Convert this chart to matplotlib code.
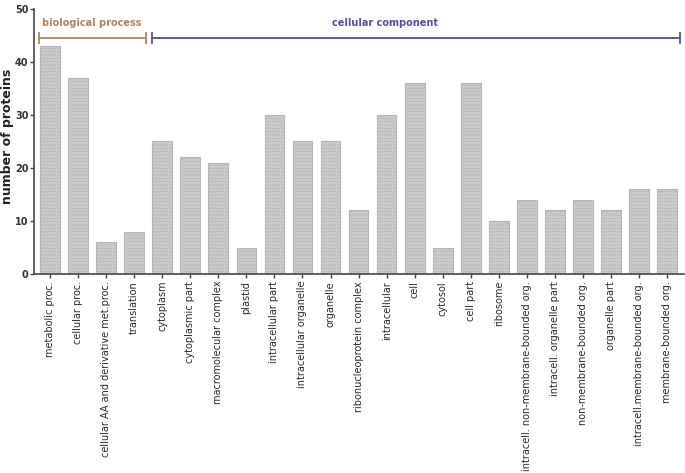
import numpy as np
import matplotlib
matplotlib.use("Agg")
import matplotlib.pyplot as plt

# GO categories and protein counts
categories = [
    "metabolic proc.", "cellular proc.", "cellular AA and derivative met.proc.",
    "translation", "cytoplasm", "cytoplasmic part", "macromolecular complex",
    "plastid", "intracellular part", "intracellular organelle", "organelle",
    "ribonucleoprotein complex", "intracellular", "cell", "cytosol", "cell part",
    "ribosome", "intracell. non-membrane-bounded org.", "intracell. organelle part",
    "non-membrane-bounded org.", "organelle part",
    "intracell.membrane-bounded org.", "membrane-bounded org.",
]
counts = [43, 37, 6, 8, 25, 22, 21, 5, 30, 25, 25, 12, 30, 36, 5, 36,
          10, 14, 12, 14, 12, 16, 16]

# group brackets: (label, first index, last index, colour)
groups = [
    ("biological process", 0, 3, "#b4825f"),
    ("cellular component", 4, 22, "#5b4c9c"),
]

plt.rcParams["hatch.color"] = "#d6d6d6"
plt.rcParams["hatch.linewidth"] = 0.4

fig = plt.figure(figsize=(6.85, 4.73), dpi=100)
ax = fig.add_axes([0.0496, 0.4207, 0.9490, 0.5603])

x = np.arange(len(categories))
ax.bar(x, counts, width=0.70, color="#c9c9c9", edgecolor="#b5b5b5",
       linewidth=0.8, hatch="-----", zorder=2)

ax.set_xlim(-0.57, 22.6)
ax.set_ylim(0, 50)
ax.set_yticks([0, 10, 20, 30, 40, 50])
ax.set_xticks(x)
ax.set_xticklabels(categories, rotation=90, fontsize=7)
for lbl in ax.get_yticklabels():
    lbl.set_fontweight("bold")
    lbl.set_fontsize(7)

# y label placed by hand, it sits tight against the tick labels
fig.text(8 / 685, 1 - 136 / 473, "number of proteins", rotation=90,
         fontsize=9, fontweight="bold", color="#222222",
         ha="center", va="center")

ax.spines["top"].set_visible(False)
ax.spines["right"].set_visible(False)
for side in ("left", "bottom"):
    ax.spines[side].set_linewidth(1.2)
    ax.spines[side].set_color("#444444")
ax.tick_params(axis="both", direction="out", length=3, width=1, colors="#444444", pad=2)
ax.tick_params(axis="y", labelcolor="#333333", pad=1)
ax.tick_params(axis="x", labelcolor="#2a2a2a")

# group brackets
y_br = 44.5
for name, i0, i1, col in groups:
    xs = i0 - 0.38
    xe = i1 + 0.44 if i1 < len(categories) - 1 else i1 + 0.45
    ax.plot([xs, xe], [y_br, y_br], color=col, lw=1.3, clip_on=False, zorder=3)
    ax.plot([xs, xs], [y_br - 0.9, y_br + 0.9], color=col, lw=1.3, clip_on=False)
    ax.plot([xe, xe], [y_br - 0.9, y_br + 0.9], color=col, lw=1.3, clip_on=False)
    if i0 == 0:
        ax.text(xs + 0.1, 47.4, name, color=col, fontsize=7, fontweight="bold",
                ha="left", va="center")
    else:
        ax.text((xs + xe) / 2 - 1.1, 47.4, name, color=col, fontsize=7,
                fontweight="bold", ha="center", va="center")

fig.savefig("out.png", dpi=100)
